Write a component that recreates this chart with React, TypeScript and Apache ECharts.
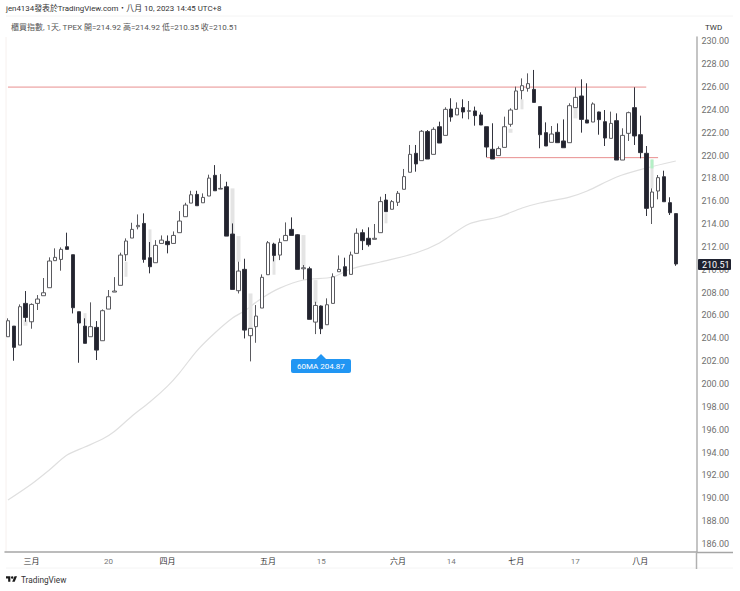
import React, { useEffect, useRef } from 'react';
import * as echarts from 'echarts';

// open, close, low, high
const candles: number[][] = [
  [204.14, 205.54, 204.14, 205.75], [205.07, 203.21, 202.04, 205.07], [203.41, 206.77, 203.41, 206.97],
  [207.06, 205.83, 205.45, 208.14], [205.45, 206.97, 204.84, 207.06], [207.06, 207.44, 206.48, 207.79],
  [207.73, 207.99, 207.73, 209.28], [208.43, 210.77, 208.43, 211.09], [210.8, 211.09, 210.8, 211.88],
  [210.91, 211.79, 209.92, 211.96], [212.02, 211.79, 211.79, 213.25], [211.32, 206.68, 206.18, 211.32],
  [206.33, 205.34, 201.86, 206.33], [205.07, 203.56, 203.56, 205.75], [204.14, 205.02, 204.14, 207.15],
  [204.96, 202.97, 202.1, 205.51], [203.79, 206.42, 203.79, 206.53], [206.56, 207.64, 206.56, 208.23],
  [208.05, 208.14, 208.05, 209.36], [208.64, 211.29, 208.64, 211.5], [211.32, 212.52, 210.77, 212.75],
  [212.78, 213.54, 212.78, 214.12], [213.77, 213.89, 213.54, 214.85], [214.06, 210.91, 210.62, 214.94],
  [211.06, 210.27, 209.69, 212.43], [210.62, 212.14, 210.62, 212.6], [212.31, 212.6, 212.31, 213.01],
  [212.49, 212.2, 211.44, 213.01], [212.31, 213.01, 212.31, 213.36], [213.25, 214.27, 213.25, 215.14],
  [214.65, 215.67, 214.65, 215.87], [215.84, 216.57, 215.84, 216.92], [216.6, 215.61, 215.61, 216.92],
  [215.87, 216.34, 215.87, 216.69], [216.46, 218.03, 216.46, 218.33], [218.27, 216.92, 216.92, 219.17],
  [217.07, 217.13, 217.07, 218.38], [217.27, 212.95, 212.95, 217.71], [213.13, 208.28, 208.28, 214.06],
  [208.17, 209.89, 207.93, 210.71], [210.04, 204.72, 203.99, 210.97], [204.23, 204.87, 201.98, 204.87],
  [205.02, 205.95, 203.61, 206.91], [206.65, 209.34, 206.65, 209.6], [209.57, 212.37, 209.57, 212.52],
  [212.25, 211.26, 210.74, 212.37], [211.29, 212.4, 210.85, 212.75], [212.55, 213.01, 212.55, 214.15],
  [213.54, 213.01, 213.01, 214.59], [213.07, 210.04, 210.04, 213.13], [210.09, 210.18, 209.16, 210.42],
  [210.09, 205.66, 205.66, 210.27], [205.42, 206.88, 204.37, 207.2], [206.83, 204.84, 204.37, 206.88],
  [205.19, 206.94, 205.19, 207.5], [207.06, 209.39, 207.06, 209.69], [209.83, 210.04, 209.83, 211.26],
  [210.27, 209.46, 209.46, 211.06], [209.6, 211.3, 209.6, 211.59], [211.44, 213.2, 211.44, 213.63],
  [213.25, 212.55, 211.73, 213.54], [212.76, 212.2, 212.03, 213.72], [212.67, 212.76, 212.67, 214.01],
  [213.25, 215.97, 213.25, 216.4], [216.11, 215.09, 215.09, 216.64], [215.3, 215.97, 215.3, 216.11],
  [215.91, 216.7, 215.59, 216.9], [217.05, 218.16, 217.05, 218.83], [218.54, 220.11, 218.54, 220.93],
  [220.2, 219.27, 218.59, 220.93], [219.56, 222.13, 219.56, 222.24], [222.1, 219.7, 219.7, 222.24],
  [220.11, 222.3, 220.11, 222.48], [222.53, 221.1, 221.1, 222.97], [221.77, 224.05, 221.77, 224.23],
  [224.08, 223.38, 222.97, 225.02], [223.56, 224.14, 223.56, 224.66], [224.2, 223.82, 223.26, 224.93],
  [223.88, 223.93, 223.18, 224.78], [223.91, 223.5, 222.62, 224.29], [223.56, 222.68, 222.68, 223.79],
  [222.53, 220.75, 219.85, 222.53], [220.55, 219.7, 219.7, 222.83], [220.0, 220.61, 220.0, 220.8],
  [220.72, 222.53, 220.72, 223.41], [222.74, 223.99, 222.53, 224.14], [224.05, 225.66, 224.05, 226.04],
  [225.69, 226.12, 224.93, 226.76], [225.89, 226.3, 225.6, 227.2], [225.8, 224.66, 224.66, 227.5],
  [224.29, 221.83, 220.64, 224.29], [222.01, 220.84, 220.84, 222.91], [221.16, 221.89, 221.16, 222.59],
  [222.04, 221.13, 221.13, 222.82], [221.28, 220.69, 220.69, 223.17], [221.13, 224.37, 221.13, 224.58],
  [224.2, 225.1, 224.2, 225.98], [225.22, 223.17, 222.01, 226.68], [223.12, 222.85, 222.85, 226.33],
  [222.94, 224.52, 222.94, 224.66], [223.82, 223.15, 221.83, 223.85], [222.97, 221.54, 220.84, 223.99],
  [221.51, 222.82, 221.51, 223.85], [223.06, 219.61, 219.61, 223.7], [219.61, 221.77, 219.61, 222.39],
  [221.95, 223.76, 221.28, 223.85], [224.2, 221.72, 220.93, 225.98], [221.83, 220.26, 219.76, 223.5],
  [220.2, 215.38, 214.71, 220.84], [215.47, 216.81, 214.01, 217.13], [216.9, 218.07, 216.17, 218.3],
  [218.15, 215.96, 215.96, 218.68], [215.88, 215.0, 214.8, 216.35], [214.92, 210.51, 210.35, 214.92],
];

// 60MA: [candle index, value]
const ma60: number[][] = [
  [0, 189.84], [4, 191.24], [7, 192.47], [10, 193.78], [13, 194.48], [16, 195.18], [18, 195.84],
  [21, 197.2], [24, 198.42], [27, 199.82], [29, 200.96], [32, 202.93], [35, 204.47], [38, 205.78],
  [40, 206.39], [43, 207.53], [46, 208.4], [50, 209.11], [55, 209.37], [58, 210.07], [63, 210.68],
  [69, 211.47], [73, 212.35], [78, 214.01], [83, 214.62], [87, 215.41], [90, 215.85], [95, 216.37],
  [98, 216.9], [103, 218.13], [108, 218.91], [113, 219.53],
];

// pale shadow strips beside some candles: [candle index, low, high]
const ghostSpans: number[][] = [
  [3, 205.1, 205.6], [13, 205.2, 206.2], [20, 209.39, 210.71], [24, 211.15, 213.54],
  [38, 213.13, 217.13], [39, 210.71, 212.95], [41, 204.87, 207.93], [45, 209.57, 211.26],
  [50, 210.27, 213.04], [52, 207.06, 209.1], [64, 214.07, 214.95], [85, 222.0, 222.35],
  [87, 224.05, 224.93], [96, 223.26, 224.2], [109, 217.13, 219.6],
];
const greenSpan = [109, 218.88, 219.67];

const resistance = [[0, 226], [108, 226]];
const support = [[81, 219.82], [110, 219.82]];

const tickLabels: Record<number, string> = {
  4: '三月', 17: '20', 27: '四月', 44: '五月', 53: '15', 66: '六月', 75: '14', 86: '七月', 96: '17', 107: '八月',
};
const categories = Array.from({ length: 117 }, (_, i) => tickLabels[i] ?? '');
const priceTicks = [186, 188, 190, 192, 194, 196, 198, 200, 202, 204, 206, 208, 210, 212, 214, 216, 218, 220, 222, 224, 226, 228, 230];

const titleText = 'jen4134發表於TradingView.com・八月 10, 2023 14:45 UTC+8';
const legendText = '櫃買指數, 1天, TPEX 開=214.92 高=214.92 低=210.35 收=210.51';
const font = 'Roboto, "Noto Sans CJK TC", sans-serif';

echarts.graphic.registerShape(
  'tvLogo',
  echarts.graphic.extendPath(
    'M14 22H7V11H0V4h14v18zM28 22h-8l7.5-18h8L28 22zM24 8a4 4 0 1 1-8 0 4 4 0 0 1 8 0z',
    {},
  ),
);

const spanSeries = (spans: number[][]) =>
  categories.map((_, i) => {
    const s = spans.find((g) => g[0] === i);
    return s ? [s[1], s[2], s[1], s[2]] : '-';
  });

const App: React.FC = () => {
  const chartref = useRef<HTMLDivElement>(null);
  useEffect(() => {
    const myChart = echarts.init(chartref.current as HTMLDivElement, undefined, { renderer: 'svg' });
    const option: any = {
      animation: false,
      backgroundColor: '#ffffff',
      textStyle: { fontFamily: font },
      grid: { left: 5, top: 37, width: 691.5, height: 515 },
      xAxis: {
        type: 'category',
        data: categories,
        boundaryGap: true,
        axisLine: { lineStyle: { color: '#a6a6a6', width: 1.5 } },
        axisTick: { show: false },
        axisLabel: {
          interval: 0,
          margin: 5,
          fontSize: 8,
          hideOverlap: false,
          color: (v: string) => (/月/.test(v) ? '#333333' : '#777777'),
        },
        splitLine: { show: false },
      },
      yAxis: {
        type: 'value',
        position: 'right',
        min: 185.29,
        max: 230.385,
        scale: true,
        axisLine: { show: true, lineStyle: { color: '#b0b0b0', width: 1.5 } },
        axisTick: { show: false },
        axisLabel: {
          customValues: priceTicks,
          margin: 5,
          fontSize: 9,
          color: '#707070',
          formatter: (v: number) => v.toFixed(2),
        },
        splitLine: { show: false },
      },
      series: [
        {
          type: 'candlestick',
          name: 'shadow',
          z: 1,
          barWidth: 4,
          silent: true,
          data: spanSeries(ghostSpans),
          itemStyle: { color: '#e4e4e4', borderColor: '#e4e4e4', borderWidth: 0 },
        },
        {
          type: 'candlestick',
          name: 'shadowGreen',
          z: 1,
          barWidth: 4,
          silent: true,
          data: spanSeries([greenSpan]),
          itemStyle: { color: '#b4f0c6', borderColor: '#b4f0c6', borderWidth: 0 },
        },
        {
          type: 'line',
          name: '60MA',
          z: 1,
          data: ma60,
          smooth: 0.3,
          showSymbol: false,
          lineStyle: { color: '#dfdfdf', width: 1.2 },
        },
        {
          type: 'line',
          name: 'resistance',
          z: 1,
          data: resistance,
          showSymbol: false,
          lineStyle: { color: '#e88f8f', width: 1 },
        },
        {
          type: 'line',
          name: 'support',
          z: 1,
          data: support,
          showSymbol: false,
          lineStyle: { color: '#e88f8f', width: 1 },
        },
        {
          type: 'candlestick',
          name: '櫃買指數',
          z: 3,
          barWidth: 4,
          data: candles,
          itemStyle: {
            color: '#ffffff',
            color0: '#22232e',
            borderColor: '#5a5a5f',
            borderColor0: '#33343e',
            borderWidth: 1,
          },
        },
      ],
      graphic: [
        { type: 'text', z: 100, x: 6, y: 5, style: { text: titleText, font: `7.9px ${font}`, fill: '#333333' } },
        { type: 'text', z: 100, x: 11, y: 23, style: { text: legendText, font: `8px ${font}`, fill: '#555555' } },
        { type: 'text', z: 100, x: 705, y: 23, style: { text: 'TWD', font: `8px ${font}`, fill: '#333333' } },
        // faint pane frame and axis extensions
        { type: 'line', z: 0, shape: { x1: 6, y1: 16, x2: 733, y2: 16 }, style: { stroke: '#f4f4f4', lineWidth: 1 } },
        { type: 'line', z: 0, shape: { x1: 6, y1: 37, x2: 6, y2: 552 }, style: { stroke: '#f6f0ee', lineWidth: 1 } },
        { type: 'line', z: 0, shape: { x1: 6, y1: 568, x2: 733, y2: 568 }, style: { stroke: '#f4f4f4', lineWidth: 1 } },
        { type: 'line', z: 2, shape: { x1: 696.5, y1: 552.5, x2: 733, y2: 552.5 }, style: { stroke: '#a6a6a6', lineWidth: 1.5 } },
        { type: 'line', z: 2, shape: { x1: 696.5, y1: 552, x2: 696.5, y2: 569 }, style: { stroke: '#b0b0b0', lineWidth: 1.5 } },
        // last price tag
        { type: 'rect', z: 100, shape: { x: 698, y: 259, width: 33, height: 11, r: 1 }, style: { fill: '#1f2230' } },
        { type: 'text', z: 101, x: 702, y: 260, style: { text: '210.51', font: `9px ${font}`, fill: '#ffffff' } },
        // 60MA tooltip
        { type: 'rect', z: 100, shape: { x: 291, y: 359, width: 60, height: 14, r: 2 }, style: { fill: '#2196f3' } },
        { type: 'polygon', z: 100, shape: { points: [[316, 359], [321, 354], [326, 359]] }, style: { fill: '#2196f3' } },
        { type: 'text', z: 101, x: 297, y: 362, style: { text: '60MA 204.87', font: `8px ${font}`, fill: '#ffffff' } },
        // TradingView mark
        { type: 'tvLogo', z: 100, x: 6, y: 575, scaleX: 0.31, scaleY: 0.31, style: { fill: '#1a1a1a' } },
        { type: 'text', z: 100, x: 21, y: 576, style: { text: 'TradingView', font: `8.25px ${font}`, fill: '#333333' } },
      ],
    };
    myChart.setOption(option);
    return () => {
      myChart.dispose();
    };
  }, []);

  return (
    <div ref={chartref} style={{ position: 'absolute', left: 0, top: 0, width: 740, height: 591 }} />
  );
};

export default App;
